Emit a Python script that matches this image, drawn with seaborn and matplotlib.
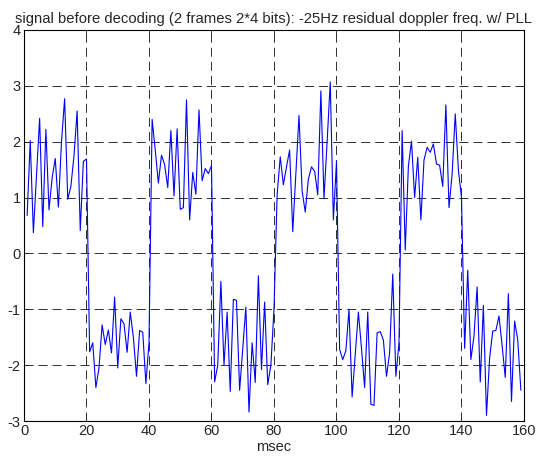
import numpy as np
import pandas as pd
import matplotlib
matplotlib.use("Agg")
import matplotlib.pyplot as plt
import seaborn as sns

# signal samples, one per msec
frame1_hi = [0.68, 2.02, 0.37, 1.40, 2.42, 0.48, 2.22, 0.78, 1.35, 1.70,
             0.83, 2.00, 2.77, 0.97, 1.20, 1.75, 2.55, 0.41, 1.65, 1.69]
frame1_lo = [-1.76, -1.60, -2.40, -2.05, -1.28, -1.63, -1.37, -1.78, -0.78, -2.05,
             -1.17, -1.26, -1.77, -1.05, -1.50, -2.20, -1.38, -1.41, -2.33, -1.60]
frame2_hi = [2.40, 1.85, 1.26, 1.76, 1.59, 1.18, 2.20, 1.03, 2.23, 0.79,
             0.82, 2.75, 0.60, 1.45, 1.06, 2.57, 1.30, 1.52, 1.43, 1.57]
frame2_lo = [-2.30, -2.00, -0.50, -2.00, -1.05, -2.47, -0.82, -0.84, -2.45, -1.70,
             -0.96, -2.84, -1.60, -2.31, -0.40, -2.08, -0.87, -2.35, -2.00, -1.00]
frame3_hi = [1.05, 1.73, 1.23, 1.55, 1.85, 0.39, 1.43, 2.47, 1.12, 0.74,
             1.33, 1.55, 1.47, 1.05, 2.91, 0.98, 2.00, 3.07, 0.60, 1.65]
frame3_lo = [-1.72, -1.90, -1.74, -1.00, -2.57, -1.80, -1.05, -1.70, -2.40, -1.05,
             -2.70, -2.72, -1.42, -1.40, -1.55, -2.20, -1.78, -0.37, -2.20, -1.60]
frame4_hi = [2.20, 0.06, 1.56, 2.01, 1.00, 1.72, 0.60, 1.67, 1.90, 1.81,
             1.96, 1.60, 1.58, 1.20, 2.66, 0.82, 1.42, 2.50, 1.50, 1.00]
frame4_lo = [-1.70, -0.30, -1.90, -1.48, -0.60, -2.30, -0.93, -2.90, -1.87, -1.39,
             -1.38, -1.12, -1.65, -2.22, -0.72, -2.65, -1.21, -1.55, -2.45]

signal = (frame1_hi + frame1_lo + frame2_hi + frame2_lo +
          frame3_hi + frame3_lo + frame4_hi + frame4_lo)
msec = np.arange(1, len(signal) + 1)

df = pd.DataFrame({'msec': msec, 'signal': signal})

x_ticks = [0, 20, 40, 60, 80, 100, 120, 140, 160]
y_ticks = [-3, -2, -1, 0, 1, 2, 3, 4]

title = 'signal before decoding (2 frames 2*4 bits): -25Hz residual doppler freq. w/ PLL'

sns.set_style('white')
plt.rcParams['font.family'] = ['Liberation Sans', 'DejaVu Sans']
plt.rcParams['lines.scale_dashes'] = False
plt.rcParams['axes.unicode_minus'] = False

fig = plt.figure(figsize=(5.43, 4.65), dpi=100)
ax = fig.add_axes([0.0442, 0.0946, 0.9208, 0.8409])

sns.lineplot(data=df, x='msec', y='signal', ax=ax, color=(0, 0, 1),
             linewidth=0.8, estimator=None, zorder=3)

ax.set_xlim(0, 160)
ax.set_ylim(-3, 4)
ax.set_xticks(x_ticks)
ax.set_yticks(y_ticks)
ax.set_xlabel('msec', fontsize=10.5, labelpad=1)
ax.set_ylabel('')
ax.set_title(title, fontsize=10.7, pad=5)

# MATLAB-like dashed grid, ticks inside on all sides
ax.grid(True, color='0.05', linestyle=(0, (6.5, 3.6)), linewidth=0.6)
ax.tick_params(direction='in', length=3.5, width=0.6, labelsize=10.5,
               top=True, right=True, bottom=True, left=True, pad=2.5)
for side in ax.spines.values():
    side.set_color('black')
    side.set_linewidth(0.8)

fig.savefig('out.png', dpi=100)
